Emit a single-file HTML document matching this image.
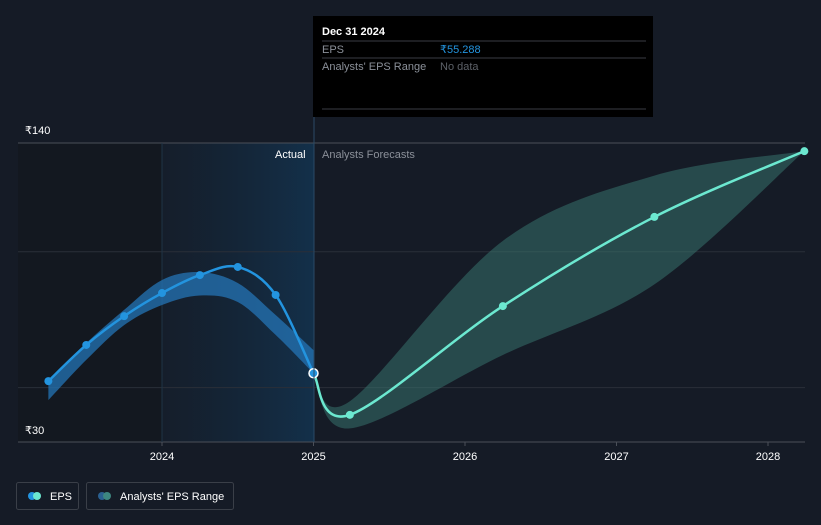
<!DOCTYPE html>
<html><head><meta charset="utf-8">
<style>
html,body{margin:0;padding:0;background:#151b26;}
body{width:821px;height:520px;overflow:hidden;font-family:"Liberation Sans",sans-serif;}
svg text{font-family:"Liberation Sans",sans-serif;}
</style></head>
<body>
<svg id="chart" width="821" height="520" xmlns="http://www.w3.org/2000/svg">
<defs>
<linearGradient id="actualGrad" x1="0" x2="1" y1="0" y2="0">
<stop offset="0" stop-color="#15202e" stop-opacity="0.6"/>
<stop offset="1" stop-color="#13304a" stop-opacity="1"/>
</linearGradient>
</defs>
<rect x="0" y="0" width="821" height="520" fill="#151b26"/>
<rect x="18" y="143" width="144" height="299" fill="#131820"/>
<rect id="actualRegion" x="162" y="143" width="152" height="299" fill="url(#actualGrad)"/>
<g id="grid"></g>
<g id="bands"></g>
<g id="lines"></g>
<g id="xaxis"></g>
<text x="275" y="158" fill="#ffffff" font-size="11">Actual</text>
<text x="322" y="158" fill="#8b9099" font-size="11">Analysts Forecasts</text>
<text x="25" y="134" fill="#ffffff" font-size="11">₹140</text>
<text x="25" y="434" fill="#ffffff" font-size="11">₹30</text>
<line x1="314" y1="117" x2="314" y2="442" stroke="#2a4a66" stroke-width="1"/>
<g>
<rect x="313" y="16" width="340" height="101" fill="#000000"/>
<text x="322" y="35" fill="#ffffff" font-size="11" font-weight="bold">Dec 31 2024</text>
<line x1="322" y1="41" x2="646" y2="41" stroke="#3a3d44"/>
<text x="322" y="53" fill="#8b9099" font-size="11">EPS</text>
<text x="440" y="53" fill="#2394df" font-size="11">₹55.288</text>
<line x1="322" y1="58" x2="646" y2="58" stroke="#3a3d44"/>
<text x="322" y="70" fill="#8b9099" font-size="11">Analysts' EPS Range</text>
<text x="440" y="70" fill="#5d6168" font-size="11">No data</text>
<line x1="322" y1="109" x2="646" y2="109" stroke="#3a3d44"/>
</g>
<g>
<rect x="16.5" y="482.5" width="62" height="27" rx="2" fill="none" stroke="#3a3f48"/>
<circle cx="32" cy="496" r="4" fill="#2394df"/>
<circle cx="37" cy="496" r="4" fill="#6ce8d0"/>
<text x="50" y="500" fill="#ffffff" font-size="11">EPS</text>
</g>
<g>
<rect x="86.5" y="482.5" width="147" height="27" rx="2" fill="none" stroke="#3a3f48"/>
<circle cx="102" cy="496" r="4" fill="#2a6090"/>
<circle cx="107" cy="496" r="4" fill="#3d8680"/>
<text x="120" y="500" fill="#ffffff" font-size="11">Analysts' EPS Range</text>
</g>
</svg>
<script>
const actualDates=[2023.25,2023.5,2023.75,2024,2024.25,2024.5,2024.75,2025];
const actualEps=[52.4,65.7,76.3,84.8,91.4,94.4,84.1,55.288];
const actualHigh=[52.4,66.4,78.6,89.6,92.5,88.5,76.7,63.8];
const actualLow=[45.4,60.2,73.0,80.4,83.9,81.5,69.4,55.288];
const fcDates=[2025,2025.24,2026.25,2027.25,2028.24];
const fcEps=[55.288,40,80,112.8,137];
const fcHigh=[55.288,45,104,128,137];
const fcLow=[55.288,35,62,88,137];
const yGrid=[140,100,50,30];
const xTicks=[2024,2025,2026,2027,2028];

const NS="http://www.w3.org/2000/svg";
function X(t){return 162+(t-2024)*151.5;}
function Y(v){return 442-(v-30)*299/110;}
function pts(d,v){return d.map((t,i)=>[X(t),Y(v[i])]);}
function curve(p,move){
  let s=move?"M"+p[0][0]+","+p[0][1]:"L"+p[0][0]+","+p[0][1];
  for(let i=0;i<p.length-1;i++){
    const p0=p[Math.max(0,i-1)],p1=p[i],p2=p[i+1],p3=p[Math.min(p.length-1,i+2)];
    const c1=[p1[0]+(p2[0]-p0[0])/6,p1[1]+(p2[1]-p0[1])/6];
    const c2=[p2[0]-(p3[0]-p1[0])/6,p2[1]-(p3[1]-p1[1])/6];
    s+=" C"+c1[0]+","+c1[1]+" "+c2[0]+","+c2[1]+" "+p2[0]+","+p2[1];
  }
  return s;
}
function mk(tag,attrs,parent){const e=document.createElementNS(NS,tag);for(const k in attrs)e.setAttribute(k,attrs[k]);document.getElementById(parent).appendChild(e);return e;}

yGrid.forEach(v=>{
  const l=mk("line",{x1:18,x2:805,y1:Y(v),y2:Y(v),stroke:v===140||v===30?"#4a4f58":"#2a2f38","stroke-width":1},"grid");
  
  
});
xTicks.forEach(t=>{
  const l=mk("line",{x1:X(t),x2:X(t),y1:442,y2:446,stroke:"#4a4f58"},"xaxis");
  
  
  const tx=mk("text",{x:X(t),y:460,fill:"#ffffff","font-size":11,"text-anchor":"middle"},"xaxis");
  tx.textContent=t;
  
  
  if(t===2024){
    const g=mk("line",{x1:X(t),x2:X(t),y1:143,y2:442,stroke:"#1e3346"},"grid");
    
    
  }
});
function band(d,hi,lo,fill,op,name){
  const up=pts(d,hi),dn=pts(d,lo).reverse();
  const p=mk("path",{d:curve(up,true)+" "+curve(dn,false)+" Z",fill:fill,"fill-opacity":op},"bands");
  
  
}
band(actualDates,actualHigh,actualLow,"#2474b5",0.75,"actual-eps-range");
band(fcDates,fcHigh,fcLow,"#3a7a72",0.5,"forecast-eps-range");
function line(d,v,color,name,skipLast){
  const p=pts(d,v);
  const l=mk("path",{d:curve(p,true),fill:"none",stroke:color,"stroke-width":2.5},"lines");
  
  
  p.forEach((q,i)=>{
    if(skipLast&&i===p.length-1)return;
    if(name==="forecast-eps-line"&&i===0)return;
    const c=mk("circle",{cx:q[0],cy:q[1],r:4,fill:color},"lines");
    
    
  });
}
line(fcDates,fcEps,"#6ce8d0","forecast-eps-line",false);
line(actualDates,actualEps,"#2394df","actual-eps-line",true);
const last=mk("circle",{cx:X(actualDates[actualDates.length-1]),cy:Y(actualEps[actualEps.length-1]),r:4.5,fill:"#2394df",stroke:"#ffffff","stroke-width":1.5},"lines");


</script>
</body></html>
